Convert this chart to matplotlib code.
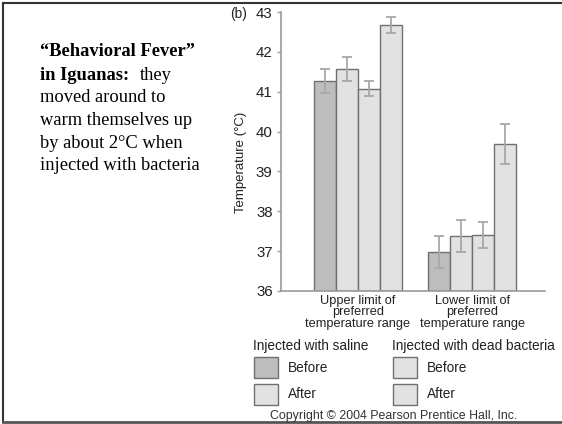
import matplotlib
matplotlib.use("Agg")
import matplotlib.pyplot as plt
from matplotlib.patches import Rectangle
from matplotlib.lines import Line2D

plt.rcParams['font.family'] = ['Liberation Sans', 'DejaVu Sans']

# ---- data ----
categories = ["Upper limit of\npreferred\ntemperature range",
              "Lower limit of\npreferred\ntemperature range"]
saline_before = [41.28, 36.97]
saline_after = [41.58, 37.38]
bacteria_before = [41.08, 37.40]
bacteria_after = [42.68, 39.68]
err_saline_before = [0.30, 0.40]
err_saline_after = [0.30, 0.40]
err_bacteria_before = [0.20, 0.32]
err_bacteria_after = [0.20, 0.50]
yticks = [36, 37, 38, 39, 40, 41, 42, 43]

W, H = 562, 424
fig = plt.figure(figsize=(W / 100, H / 100), dpi=100)

def fx(px):
    return px / W

def fy(py):
    return (H - py) / H

ax = fig.add_axes([fx(281), fy(291), fx(545) - fx(281), fy(12) - fy(291)])

dark = "#bdbdbd"
light = "#e2e2e2"
edge = "#707070"
errc = "#a8a8a8"

centers = [3.5, 8.7]
offsets = [-1.5, -0.5, 0.5, 1.5]
series = [(saline_before, err_saline_before, dark),
          (saline_after, err_saline_after, light),
          (bacteria_before, err_bacteria_before, light),
          (bacteria_after, err_bacteria_after, light)]
for (vals, errs, col), off in zip(series, offsets):
    xs = [c + off for c in centers]
    heights = [v - 36 for v in vals]
    ax.bar(xs, heights, width=1.0, bottom=36, color=col, edgecolor=edge,
           linewidth=1.0, zorder=2)
    ax.errorbar(xs, vals, yerr=errs, fmt='none', ecolor=errc, elinewidth=1.3,
                capsize=3.5, capthick=1.3, zorder=3)

ax.set_xlim(0, 12)
ax.set_ylim(36, 43)
ax.set_yticks(yticks)
ax.set_yticklabels([str(t) for t in yticks], fontsize=10.8, color="#222222")
ax.set_xticks(centers)
ax.set_xticklabels(categories, fontsize=9.2, linespacing=0.92, color="#222222")
ax.tick_params(axis='x', length=0, pad=3)
ax.tick_params(axis='y', length=3, width=1, color="#999999", pad=3)
for s in ['top', 'right']:
    ax.spines[s].set_visible(False)
for s in ['left', 'bottom']:
    ax.spines[s].set_color("#999999")
    ax.spines[s].set_linewidth(1.2)
ax.set_ylabel("Temperature (°C)", fontsize=9.5, color="#222222")
ax.yaxis.set_label_coords(-0.128, 0.46)

fig.text(fx(230), fy(14), "(b)", fontsize=9.8, color="#222222", va='center', ha='left')

# ---- left annotation ----
serif = ['Liberation Serif', 'DejaVu Serif']
tfs = 13.3
fig.text(fx(40), fy(52), "\u201cBehavioral Fever\u201d", family=serif, fontsize=tfs,
         weight='bold', va='center', ha='left')
fig.text(fx(40), fy(75), "in Iguanas:", family=serif, fontsize=tfs,
         weight='bold', va='center', ha='left')
fig.text(fx(140), fy(75), "they", family=serif, fontsize=tfs, va='center', ha='left')
lines = ["moved around to", "warm themselves up", "by about 2°C when",
         "injected with bacteria"]
for i, ln in enumerate(lines):
    fig.text(fx(40), fy(98 + 22.5 * i), ln, family=serif, fontsize=tfs,
             va='center', ha='left')

# ---- legend ----
lfs = 9.8
fig.text(fx(253), fy(346), "Injected with saline", fontsize=lfs, va='center', ha='left', color="#222222")
fig.text(fx(392), fy(346), "Injected with dead bacteria", fontsize=lfs, va='center', ha='left', color="#222222")
legend_items = [(254, 357, dark, "Before"), (254, 384, light, "After"),
                (393, 357, light, "Before"), (393, 384, light, "After")]
for x0, y0, col, lab in legend_items:
    r = Rectangle((fx(x0), fy(y0 + 21)), fx(24), 21 / H, transform=fig.transFigure,
                  facecolor=col, edgecolor=edge, linewidth=1.0)
    fig.patches.append(r)
    fig.text(fx(x0 + 34), fy(y0 + 10.5), lab, fontsize=lfs, va='center', ha='left', color="#222222")

fig.text(fx(394), fy(416), "Copyright \u00a9 2004 Pearson Prentice Hall, Inc.",
         fontsize=8.9, va='center', ha='center', color="#333333")

# ---- slide frame ----
fig.add_artist(Line2D([fx(3), 1], [fy(2.5), fy(2.5)], transform=fig.transFigure,
                      color="#333333", linewidth=1.5))
fig.add_artist(Line2D([fx(3), fx(3)], [fy(2.5), fy(422)], transform=fig.transFigure,
                      color="#333333", linewidth=1.5))
fig.add_artist(Line2D([fx(3), 1], [fy(422), fy(422)], transform=fig.transFigure,
                      color="#555555", linewidth=2))

fig.savefig("out.png", dpi=100)
